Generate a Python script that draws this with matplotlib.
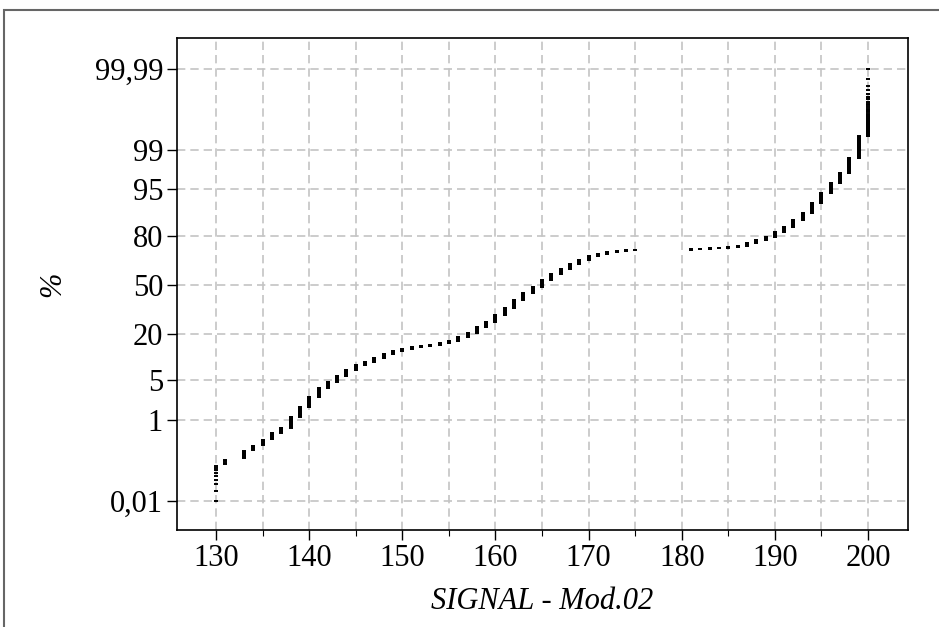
import numpy as np
import matplotlib
matplotlib.use("Agg")
import matplotlib.pyplot as plt
from matplotlib.patches import Rectangle
from statistics import NormalDist

# ---- data ----
values = list(range(130, 201))
counts = [9, 4, 0, 8, 7, 10, 16, 15, 47, 63, 91,          # 130-140
          110, 90, 120, 130, 120, 90, 120, 120, 110, 80,  # 141-150
          70, 40, 20, 100, 90, 170, 190, 310, 270, 410,   # 151-160
          430, 520, 470, 410, 480, 380, 360, 330, 260, 240,  # 161-170
          120, 90, 70, 50, 20, 0, 0, 0, 0, 0,             # 171-180
          30, 30, 40, 30, 50, 50, 160, 160, 160, 220,     # 181-190
          220, 270, 240, 290, 220, 170, 130, 126, 92, 52]  # 191-200
tick_pct = [0.01, 1, 5, 20, 50, 80, 95, 99, 99.99]
tick_labels = ["0,01", "1", "5", "20", "50", "80", "95", "99", "99,99"]
xticks_major = [130, 140, 150, 160, 170, 180, 190, 200]
xticks_minor = [135, 145, 155, 165, 175, 185, 195]
xlabel = "SIGNAL - Mod.02"
ylabel = "%"

# ---- build probability-plot positions ----
nd = NormalDist()
obs = np.repeat(values, counts)
N = len(obs)
ranks = np.arange(1, N + 1)
pp = ranks / (N + 1)
z = np.array([nd.inv_cdf(p) for p in pp])

plt.rcParams['font.family'] = ['Liberation Serif', 'DejaVu Serif']

fig = plt.figure(figsize=(9.39, 6.27), dpi=100)
ax = fig.add_axes([177/939, 1 - 530/627, (908-177)/939, (530-38)/627])

ax.plot(obs, z, linestyle='none', marker='_', ms=2.6, mew=1.4, color='black', zorder=3)

ax.set_xticks(xticks_major)
ax.set_xticks(xticks_minor, minor=True)
ax.set_xlim(125.8, 204.3)
ax.set_ylim(-4.22, 4.25)
ax.set_yticks([nd.inv_cdf(p / 100) for p in tick_pct])
ax.set_yticklabels(tick_labels)

ax.tick_params(axis='both', which='major', labelsize=22, length=7, width=1, direction='out', color='black')
ax.tick_params(axis='x', which='minor', length=4, width=0.8, direction='out')
ax.tick_params(axis='x', which='major', pad=3)
ax.tick_params(axis='y', which='major', pad=3)

ax.grid(True, which='both', axis='x', color='#c4c4c4', linestyle=(0, (5, 3)), linewidth=1.2, zorder=0)
ax.grid(True, which='major', axis='y', color='#c4c4c4', linestyle=(0, (5, 3)), linewidth=1.2, zorder=0)
ax.set_axisbelow(True)

for s in ax.spines.values():
    s.set_linewidth(1.2)
    s.set_color('black')

ax.set_xlabel(xlabel, fontsize=22, style='italic', labelpad=10)
ax.set_ylabel(ylabel, fontsize=22, style='italic', labelpad=20)

# outer frame (partly clipped by the image edge)
fig.add_artist(Rectangle((4/939, -0.05), 1.2, 1 - 10/627 + 0.05, transform=fig.transFigure,
                         fill=False, edgecolor='#666666', linewidth=1.5))

fig.savefig("out.png", dpi=100)
